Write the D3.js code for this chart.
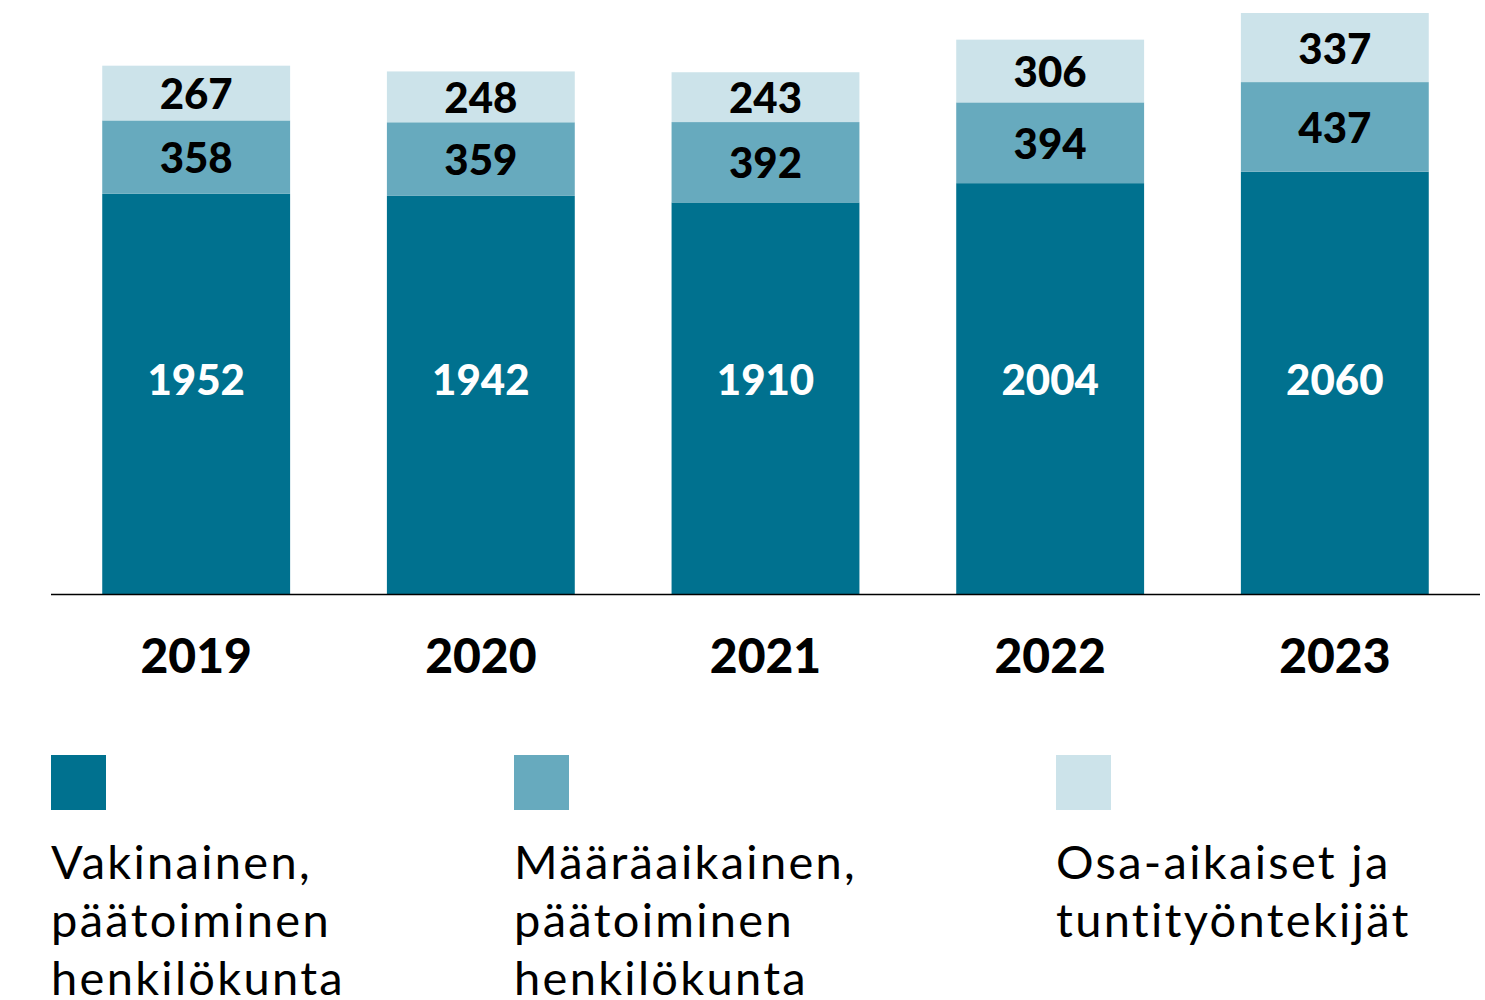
<!DOCTYPE html>
<html><head><meta charset="utf-8">
<script src="https://cdn.jsdelivr.net/npm/d3@7"></script>
<style>body{margin:0;background:#fff}svg{display:block}</style>
</head><body>
<script>
const years = ["2019","2020","2021","2022","2023"];
const vakinainen = [1952,1942,1910,2004,2060];
const maaraaikainen = [358,359,392,394,437];
const osaaikaiset = [267,248,243,306,337];
const seriesNames = ["Vakinainen, päätoiminen henkilökunta","Määräaikainen, päätoiminen henkilökunta","Osa-aikaiset ja tuntityöntekijät"];
const legendLines = [["Vakinainen,","päätoiminen","henkilökunta"],["Määräaikainen,","päätoiminen","henkilökunta"],["Osa-aikaiset ja","tuntityöntekijät"]];
const colors = ["#00718F","#67AABE","#CCE3EA"];
const labelColors = ["#ffffff","#000000","#000000"];

const W=1485,H=1000;
const svg=d3.select("body").append("svg").attr("width",W).attr("height",H);
const font="Lato, 'Open Sans', sans-serif";

const rows = years.map((y,i)=>({year:y, s0:vakinainen[i], s1:maaraaikainen[i], s2:osaaikaiset[i]}));
const stack = d3.stack().keys(["s0","s1","s2"])(rows);

const x=d3.scaleBand().domain(years).range([51,1480]).paddingInner(0.34).paddingOuter(0.18);
const y=d3.scaleLinear().domain([0,2834]).range([594,13]);
// the white labels in the reference sit at one common height
const darkLabelLevel = 1050;

stack.forEach((layer,li)=>{
  const g=svg.append("g");
  g.selectAll("rect").data(layer).enter().append("rect")
    .attr("x",d=>x(d.data.year)).attr("width",x.bandwidth())
    .attr("y",d=>y(d[1])).attr("height",d=>y(d[0])-y(d[1]))
    .attr("fill",colors[li]);
  g.selectAll("text").data(layer).enter().append("text")
    .attr("x",d=>x(d.data.year)+x.bandwidth()/2)
    .attr("y",d=>{
      if(li===0) return y(darkLabelLevel);
      return (y(d[0])+y(d[1]))/2;
    })
    .attr("dy","0.38em")
    .attr("text-anchor","middle")
    .attr("font-family",font).attr("font-weight",900).attr("font-size",42)
    .attr("fill",labelColors[li])
    .text(d=>d[1]-d[0]);
});

// axis
const ax=svg.append("g").attr("transform","translate(0,594)")
  .call(d3.axisBottom(x).tickSize(0).tickPadding(0).tickSizeOuter(0));
ax.select(".domain").attr("d","M51,0.5H1480").attr("stroke","#000").attr("stroke-width",1.3);
ax.selectAll(".tick text").attr("y",62).attr("dy","0.36em")
  .attr("font-family",font).attr("font-weight",900).attr("font-size",48).attr("fill","#000");

// legend
const legX=[51,514,1056];
seriesNames.forEach((n,i)=>{
  svg.append("rect").attr("x",legX[i]).attr("y",755).attr("width",55).attr("height",55).attr("fill",colors[i]);
  const t=svg.append("text").attr("font-family",font).attr("font-size",47).attr("letter-spacing",2.3).attr("fill","#000");
  legendLines[i].forEach((ln,j)=>{
    t.append("tspan").attr("x",legX[i]).attr("y",879+j*58).text(ln);
  });
});
</script>
</body></html>
